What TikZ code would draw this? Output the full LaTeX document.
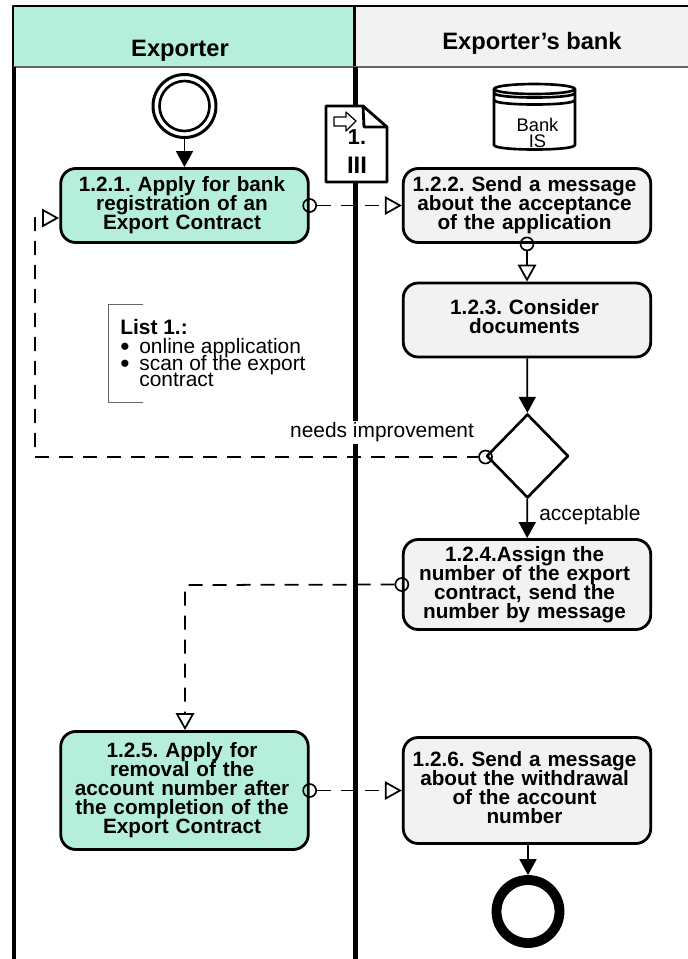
\documentclass[tikz,border=0pt]{standalone}
\usepackage{fontspec}
\setmainfont{Liberation Sans}
\usetikzlibrary{arrows.meta,shapes.geometric}
\definecolor{exporter}{HTML}{B5EEDB}
\definecolor{bank}{HTML}{F2F2F2}
\frenchspacing
\lineskiplimit=-\maxdimen
\tikzset{
	task/.style={draw,rounded corners=3mm,line width=1.6pt,minimum width=4.95cm,inner sep=0pt,align=center,text width=4.8cm,
		font=\fontsize{11.8}{10.8}\selectfont\bfseries,
		execute at begin node={\lineskiplimit=-\maxdimen\advance\rightskip by 2.8pt}},
	exptask/.style={task,fill=exporter},
	banktask/.style={task,fill=bank},
	msgstart/.style={circle,draw,line width=.95pt,inner sep=0pt,minimum size=2.6mm},
	msgflow/.style={line width=1pt,dash pattern=on 2.8mm off 2mm,-{Triangle[open,fill=white,length=3.4mm,width=3.7mm]}},
	seqflow/.style={line width=1pt,->},
	lanehead/.style={font=\fontsize{13.5}{15}\selectfont\bfseries},
	lbl/.style={font=\fontsize{11.9}{9.6}\selectfont}
}
\begin{document}
\begin{tikzpicture}[x=0.2mm,y=-0.2mm,>={Triangle[length=3.2mm,width=3.4mm]},line join=round]
	\useasboundingbox (0,0) rectangle (688,959);
	% lanes
	\fill[exporter] (13,7) rectangle (355,67);
	\fill[bank] (355,7) rectangle (688,67);
	\draw[line width=1.4pt] (13,67)--(13,6)--(688,6);
	\draw[line width=1.4pt] (354.5,6)--(354.5,67);
	\draw[gray!80!black,line width=.85pt] (13,67)--(688,67);
	\draw[line width=2.8pt] (14,67)--(14,959);
	\draw[line width=2.8pt] (355.5,67)--(355.5,959);
	\node[lanehead] (expname) at (180,51) {Exporter};
	\node[lanehead] (bankname) at (532,43) {Exporter’s bank};
	% events, tasks, gateway
	\node[circle,draw,line width=1.7pt,inner sep=0pt,minimum size=1.26cm] (start) at (184.5,106) {};
	\draw[line width=1.5pt] (start.center) circle (25);
	\node[exptask,minimum height=1.48cm] (t1) at (184.5,205.5) {1.2.1. Apply for bank\\registration of an\\Export Contract};
	\node[banktask,minimum height=1.48cm] (t2) at (527,205.5) {1.2.2. Send a message\\about the acceptance\\of the application};
	\node[banktask,minimum height=1.48cm] (t3) at (527,320) {1.2.3. Consider\\documents\par\vskip3.4pt\kern0pt};
	\node[draw,diamond,aspect=1,line width=1.5pt,inner sep=0pt,minimum width=1.64cm,minimum height=1.68cm] (gw) at (527.5,456) {};
	\node[banktask,minimum height=1.8cm] (t4) at (527,584.5) {1.2.4.Assign the\\number of the export\\contract, send the\\number by message};
	\node[exptask,minimum height=2.36cm] (t5) at (184.5,790.5) {1.2.5. Apply for\\removal of the\\account number after\\the completion of the\\Export Contract};
	\node[banktask,minimum height=2.12cm] (t6) at (527,790.5) {1.2.6. Send a message\\about the withdrawal\\of the account\\number\par\vskip3.4pt\kern0pt};
	\node[circle,draw,line width=5.6pt,inner sep=0pt,minimum size=1.26cm] (end) at (528,911.5) {};
	% message starts
	\node[msgstart] (m1) at (t1.east) {};
	\node[msgstart] (m2) at (t2.south) {};
	\node[msgstart] (m3) at (485.5,457) {};
	\node[msgstart] (m4) at (t4.west) {};
	\node[msgstart] (m5) at (t5.east) {};
	\coordinate (in1) at (59,218);
	\coordinate (turn1) at (35,218);
	\coordinate (turn2) at (185,585);
	% flows
	\draw[seqflow] (start)--(t1);
	\draw[seqflow] (t3)--(gw);
	\draw[seqflow] (gw)--(t4);
	\draw[seqflow] (t6.south-|end)--(end);
	\draw[msgflow] (m1)--(m1-|t2.west);
	\draw[msgflow] (m2)--(t3);
	\draw[msgflow,dash phase=.6mm] (m3)-|(turn1)--(in1);
	\draw[msgflow] (m4)--(turn2)--(turn2|-t5.north);
	\draw[msgflow] (m5)--(t6);
	% labels
	\node[lbl,fill=white,inner sep=1pt,anchor=east] (needs) at (476,432) {needs improvement};
	\node[lbl,anchor=west,inner sep=0pt] (accept) at (539,515) {acceptable};
	% document
	\draw[fill=white,line width=1.6pt] (326,106)--(363,106)--(387,127)--(387,182)--(326,182)--cycle;
	\draw[line width=1.6pt] (363,106)--(364,127)--(387,127);
	\node[inner sep=0pt,font=\fontsize{12.3}{14}\selectfont\bfseries] (docnum) at (357,137) {1.};
	\node[inner sep=0pt,font=\fontsize{13.6}{14}\selectfont\bfseries] (docpart) at (357,165) {III};
	\draw[fill=white,line width=.7pt] (334,117)--(346,117)--(346,112)--(356,121)--(346,131)--(346,126)--(334,126)--cycle;
	% bank system
	\draw[line width=1.5pt] (494,89)--(494,145) .. controls (494,151) and (575,151) .. (575,145)--(575,89);
	\draw[line width=1.5pt] (534.5,89) ellipse [x radius=40.5,y radius=5];
	\draw[line width=1.5pt] (494,93) .. controls (494,99) and (575,99) .. (575,93);
	\draw[line width=1.5pt] (494,100) .. controls (494,106) and (575,106) .. (575,100);
	\node[inner sep=0pt,align=center,font=\fontsize{10.4}{9.6}\selectfont] (banksys) at (537.5,133) {Bank\\IS};
	% list
	\draw[gray!80!black,line width=.5pt] (143,304)--(108,304)--(108,402)--(143,402);
	\node[lbl,anchor=north west,inner sep=0pt,align=left] (list1) at (120,319) {\textbf{List 1.:}\\[1pt]
		\makebox[3.8mm][l]{\raisebox{-1.6pt}{\fontsize{15}{9.6}\selectfont\textbullet}}online application\\
		\makebox[3.8mm][l]{\raisebox{-1.6pt}{\fontsize{15}{9.6}\selectfont\textbullet}}scan of the export\\
		\makebox[3.8mm][l]{}contract};
\end{tikzpicture}
\end{document}
